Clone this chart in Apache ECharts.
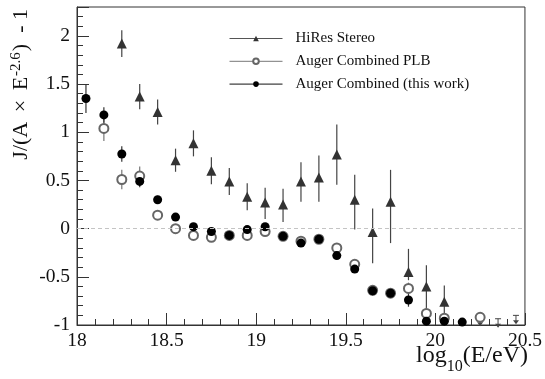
<!DOCTYPE html>
<html>
<head>
<meta charset="utf-8">
<script src="https://cdn.jsdelivr.net/npm/echarts@6/dist/echarts.min.js"></script>
<style>html,body{margin:0;padding:0;background:#fff}#c{width:545px;height:379px}</style>
</head>
<body>
<div id="c"></div>
<script>
// HiRes Stereo
const hiresX = [18.25, 18.35, 18.45, 18.55, 18.65, 18.75, 18.85, 18.95, 19.05, 19.15, 19.25, 19.35, 19.45, 19.55, 19.65, 19.75, 19.85, 19.95, 20.05];
const hiresY = [1.92, 1.37, 1.21, 0.71, 0.885, 0.60, 0.49, 0.33, 0.27, 0.25, 0.49, 0.53, 0.77, 0.30, -0.035, 0.28, -0.45, -0.60, -0.76];
const hiresLow = [1.78, 1.24, 1.08, 0.59, 0.75, 0.46, 0.35, 0.19, 0.10, 0.07, 0.28, 0.28, 0.455, -0.01, -0.36, -0.15, -0.535, -0.95, -0.95];
const hiresHigh = [2.06, 1.50, 1.34, 0.83, 1.02, 0.74, 0.63, 0.47, 0.425, 0.415, 0.69, 0.76, 1.08, 0.56, 0.21, 0.61, -0.21, -0.38, -0.59];

// Auger Combined PLB
const plbX = [18.15, 18.25, 18.35, 18.45, 18.55, 18.65, 18.75, 18.85, 18.95, 19.05, 19.15, 19.25, 19.35, 19.45, 19.55, 19.65, 19.75, 19.85, 19.95, 20.05, 20.25];
const plbY = [1.04, 0.51, 0.545, 0.14, 0.0, -0.07, -0.09, -0.07, -0.07, -0.03, -0.08, -0.13, -0.11, -0.20, -0.37, -0.64, -0.67, -0.62, -0.88, -0.93, -0.92];
const plbErr = [0.13, 0.10, 0.10, 0.04, 0.03, 0.03, 0.03, 0.03, 0.03, 0.03, 0.03, 0.03, 0.03, 0.04, 0.04, 0.05, 0.05, 0.06, 0.06, 0.04, 0.03];

// Auger Combined (this work)
const augX = [18.05, 18.15, 18.25, 18.35, 18.45, 18.55, 18.65, 18.75, 18.85, 18.95, 19.05, 19.15, 19.25, 19.35, 19.45, 19.55, 19.65, 19.75, 19.85, 19.95, 20.05, 20.15];
const augY = [1.35, 1.18, 0.775, 0.49, 0.30, 0.12, 0.02, -0.03, -0.07, -0.01, 0.02, -0.08, -0.15, -0.11, -0.28, -0.42, -0.645, -0.67, -0.74, -0.96, -0.96, -0.97];
const augErr = [0.15, 0.08, 0.08, 0.06, 0.04, 0.03, 0.03, 0.03, 0.03, 0.03, 0.03, 0.03, 0.03, 0.03, 0.03, 0.04, 0.05, 0.05, 0.07, 0.03, 0.03, 0.02];

// Upper limits
const limX = [20.25, 20.35, 20.45];
const limY = [-0.92, -0.935, -0.90];

const xTicks = { min: 18, max: 20.5, interval: 0.5 };
const yTicks = { min: -1, max: 2.3, interval: 0.5 };

const FONT = '"Liberation Serif", "DejaVu Serif", serif';

function errRender(color) {
  return function (params, api) {
    const x = api.value(0);
    const p1 = api.coord([x, api.value(1)]);
    const p2 = api.coord([x, api.value(2)]);
    return { type: 'line', shape: { x1: p1[0], y1: p1[1], x2: p2[0], y2: p2[1] }, style: { stroke: color, lineWidth: 1.2 } };
  };
}
function limRender(params, api) {
  const p = api.coord([api.value(0), api.value(1)]);
  const c = '#444';
  return {
    type: 'group',
    children: [
      { type: 'line', shape: { x1: p[0] - 3, y1: p[1], x2: p[0] + 3, y2: p[1] }, style: { stroke: c, lineWidth: 1 } },
      { type: 'line', shape: { x1: p[0], y1: p[1], x2: p[0], y2: p[1] + 7 }, style: { stroke: c, lineWidth: 1 } },
      { type: 'polygon', shape: { points: [[p[0] - 3, p[1] + 5], [p[0] + 3, p[1] + 5], [p[0], p[1] + 9]] }, style: { fill: c } }
    ]
  };
}

const chart = echarts.init(document.getElementById('c'), null, { renderer: 'canvas' });
chart.setOption({
  animation: false,
  backgroundColor: '#fff',
  grid: { left: 77, right: 18, top: 7, bottom: 54, show: true, borderColor: '#333', borderWidth: 1, backgroundColor: 'transparent' },
  xAxis: {
    type: 'value', min: xTicks.min, max: xTicks.max, interval: xTicks.interval,
    axisLine: { onZero: false, lineStyle: { color: '#333', width: 1 } },
    axisTick: { inside: true, length: 12, lineStyle: { color: '#333' } },
    minorTick: { show: true, splitNumber: 5, length: 6, lineStyle: { color: '#333' } },
    splitLine: { show: false },
    axisLabel: { color: '#111', fontFamily: FONT, fontSize: 19.5, margin: 6 }
  },
  yAxis: {
    type: 'value', min: yTicks.min, max: yTicks.max, interval: yTicks.interval,
    axisLine: { show: true, onZero: false, lineStyle: { color: '#333', width: 1 } },
    axisTick: { show: true, inside: true, length: 12, lineStyle: { color: '#333' } },
    minorTick: { show: true, splitNumber: 5, length: 6, lineStyle: { color: '#333' } },
    splitLine: { show: false },
    axisLabel: { color: '#111', fontFamily: FONT, fontSize: 19.5, margin: 7, showMaxLabel: false }
  },
  legend: {
    orient: 'vertical', left: 224, top: 26, itemWidth: 53, itemHeight: 7, itemGap: 7.8,
    textStyle: { fontFamily: FONT, fontSize: 15, color: '#111', padding: [0, 0, 0, 8] },
    data: [
      { name: 'HiRes Stereo', lineStyle: { color: '#555', width: 1, opacity: 1 } },
      { name: 'Auger Combined PLB', lineStyle: { color: '#777', width: 1, opacity: 1 } },
      { name: 'Auger Combined (this work)', lineStyle: { color: '#111', width: 1, opacity: 1 } }
    ]
  },
  graphic: [
    {
      type: 'text', x: 21, y: 9, rotation: Math.PI / 2,
      style: {
        text: '{a|J/(A }{m|×}{a| E}{s|-2.6}{a|)  - 1}', align: 'right', verticalAlign: 'middle',
        rich: {
          a: { fontFamily: FONT, fontSize: 22, fill: '#111', verticalAlign: 'bottom', lineHeight: 23 },
          m: { fontFamily: FONT, fontSize: 22, fill: '#111', verticalAlign: 'bottom', lineHeight: 23, padding: [0, 4, 0, 4] },
          s: { fontFamily: FONT, fontSize: 15, fill: '#111', verticalAlign: 'bottom', padding: [0, 1, 9, 1], lineHeight: 23 }
        }
      }
    },
    {
      type: 'text', x: 528, y: 355,
      style: {
        text: '{a|log}{s|10}{a|(E/eV)}', align: 'right', verticalAlign: 'middle',
        rich: {
          a: { fontFamily: FONT, fontSize: 24, fill: '#111', verticalAlign: 'bottom', lineHeight: 25 },
          s: { fontFamily: FONT, fontSize: 16, fill: '#111', verticalAlign: 'bottom', padding: [0, 0, -7, 0], lineHeight: 25 }
        }
      }
    }
  ],
  series: [
    {
      type: 'custom', name: 'hiresErr', z: 1, silent: true,
      renderItem: errRender('#444'), encode: { x: 0, y: [1, 2] },
      data: hiresX.map((x, i) => [x, hiresLow[i], hiresHigh[i]])
    },
    {
      type: 'custom', name: 'plbErr', z: 1, silent: true,
      renderItem: errRender('#777'), encode: { x: 0, y: [1, 2] },
      data: plbX.map((x, i) => [x, plbY[i] - plbErr[i], plbY[i] + plbErr[i]])
    },
    {
      type: 'custom', name: 'augErr', z: 1, silent: true,
      renderItem: errRender('#333'), encode: { x: 0, y: [1, 2] },
      data: augX.map((x, i) => [x, augY[i] - augErr[i], augY[i] + augErr[i]])
    },
    {
      type: 'custom', name: 'limits', z: 1, silent: true,
      renderItem: limRender, encode: { x: 0, y: 1 },
      data: limX.map((x, i) => [x, limY[i]])
    },
    {
      type: 'line', name: 'HiRes Stereo', z: 2,
      symbol: 'triangle', symbolSize: 10, showSymbol: true,
      itemStyle: { color: '#333' },
      lineStyle: { opacity: 0 },
      data: hiresX.map((x, i) => [x, hiresY[i]]),
      markLine: {
        silent: true, symbol: 'none', label: { show: false },
        lineStyle: { color: '#c4c4c4', type: [4, 3], width: 1 },
        data: [{ yAxis: 0 }]
      }
    },
    {
      type: 'line', name: 'Auger Combined PLB', z: 3,
      symbol: 'emptyCircle', symbolSize: 9, showSymbol: true,
      itemStyle: { color: '#666', borderWidth: 1 },
      lineStyle: { opacity: 0 },
      data: plbX.map((x, i) => [x, plbY[i]])
    },
    {
      type: 'line', name: 'Auger Combined (this work)', z: 4,
      symbol: 'circle', symbolSize: 9, showSymbol: true,
      itemStyle: { color: '#000' },
      lineStyle: { opacity: 0 },
      data: augX.map((x, i) => [x, augY[i]])
    }
  ]
});
</script>
</body>
</html>
